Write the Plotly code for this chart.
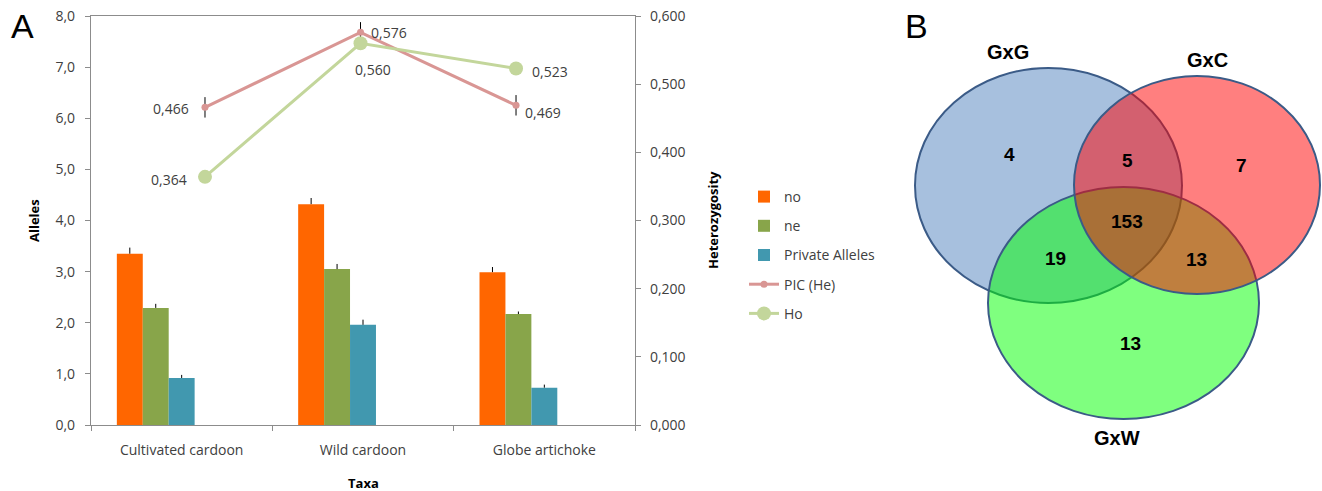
import plotly.graph_objects as go

# ---- data -------------------------------------------------------------
taxa = ["Cultivated cardoon", "Wild cardoon", "Globe artichoke"]
no_vals = [3.35, 4.32, 2.99]
ne_vals = [2.29, 3.05, 2.17]
private_vals = [0.92, 1.96, 0.73]
no_err = [0.12, 0.12, 0.10]
ne_err = [0.08, 0.10, 0.05]
private_err = [0.06, 0.10, 0.06]

pic_he = [0.466, 0.576, 0.469]
pic_err = [0.015, 0.015, 0.015]
ho = [0.364, 0.560, 0.523]

left_ticks = [0, 1, 2, 3, 4, 5, 6, 7, 8]
right_ticks = [0, 0.1, 0.2, 0.3, 0.4, 0.5, 0.6]

venn_sets = ["GxG", "GxC", "GxW"]
venn_counts = {"GxG": 4, "GxG&GxC": 5, "GxC": 7, "all": 153,
               "GxG&GxW": 19, "GxC&GxW": 13, "GxW": 13}

# ---- layout helpers ---------------------------------------------------
W, H = 1322, 491
FONT = "Open Sans"
GREY_TXT = "#404040"
AXIS = "#8c8c8c"


def px_x(p):
    return p / W


def px_y(p):
    return (H - p) / H


def comma(v, nd):
    return f"{v:.{nd}f}".replace(".", ",")


fig = go.Figure()

bar_w = 0.143
bar_specs = [
    ("no", no_vals, no_err, "#FF6600", -2.5 * bar_w),
    ("ne", ne_vals, ne_err, "#88A54A", -1.5 * bar_w),
    ("Private Alleles", private_vals, private_err, "#4198AF", -0.5 * bar_w),
]
for name, vals, err, col, off in bar_specs:
    fig.add_trace(go.Bar(
        x=taxa, y=vals, name=name, width=bar_w, offset=off,
        marker=dict(color=col, line=dict(width=0)),
        error_y=dict(type="data", array=err, arrayminus=[0] * len(err),
                     symmetric=False, color="black", thickness=1, width=0),
        xaxis="x", yaxis="y", legendgroup=name,
    ))

fig.add_trace(go.Scatter(
    x=taxa, y=pic_he, name="PIC (He)", mode="lines+markers",
    line=dict(color="#D99694", width=3),
    marker=dict(color="#D99694", size=7),
    error_y=dict(type="data", array=pic_err, color="black", thickness=1, width=0),
    xaxis="x2", yaxis="y2", legendgroup="pic",
))
fig.add_trace(go.Scatter(
    x=taxa, y=ho, name="Ho", mode="lines+markers",
    line=dict(color="#C3D69B", width=3),
    marker=dict(color="#C3D69B", size=14),
    xaxis="x2", yaxis="y2", legendgroup="ho",
))

# value labels on the heterozygosity lines
pic_pos = [("right", -14, -1), ("left", 8, 0), ("left", 7, -7)]
ho_pos = [("right", -16, -3), ("center", 12, -26), ("left", 14, -3)]
annotations = []
for vals, pos in ((pic_he, pic_pos), (ho, ho_pos)):
    for t, v, (anc, xs, ys) in zip(taxa, vals, pos):
        annotations.append(dict(
            x=t, y=v, xref="x2", yref="y2", text=comma(v, 3), showarrow=False,
            xanchor=anc, yanchor="middle", xshift=xs, yshift=ys,
            font=dict(family=FONT, size=14, color=GREY_TXT)))


def paper_text(x, y, text, size, family=FONT, angle=0):
    return dict(x=px_x(x), y=px_y(y), xref="paper", yref="paper", text=text,
                textangle=angle, showarrow=False, xanchor="center", yanchor="middle",
                font=dict(family=family, size=size, color="black"))


# axis titles and panel letters
annotations += [
    paper_text(34, 221, "<b>Alleles</b>", 13, angle=-90),
    paper_text(713, 220, "<b>Heterozygosity</b>", 13, angle=-90),
    paper_text(363, 483, "<b>Taxa</b>", 13),
    paper_text(22, 26, "A", 34, family="Liberation Sans"),
    paper_text(916, 26, "B", 34, family="Liberation Sans"),
]

# ---- Venn diagram -----------------------------------------------------
OUTLINE = "#3B5B87"
ellipses = [
    ("GxG", (915, 68, 1182, 303), "rgba(79,129,189,0.5)"),
    ("GxW", (988, 187, 1259, 419), "rgba(0,255,0,0.5)"),
    ("GxC", (1074, 76, 1320, 294), "rgba(255,0,0,0.5)"),
]
shapes = []
for _, (x0, y0, x1, y1), fill in ellipses:
    shapes.append(dict(type="circle", xref="x3", yref="y3", x0=x0, y0=y0, x1=x1, y1=y1,
                       fillcolor=fill, line=dict(color=OUTLINE, width=2), layer="above"))

venn_label_pos = {"GxG": (1008, 52), "GxC": (1207, 60), "GxW": (1117, 438)}
for s in venn_sets:
    x, y = venn_label_pos[s]
    annotations.append(dict(x=x, y=y, xref="x3", yref="y3", text=f"<b>{s}</b>",
                            showarrow=False, xanchor="center", yanchor="middle",
                            font=dict(family="Liberation Sans", size=20, color="black")))

count_pos = {"GxG": (1010, 154), "GxG&GxC": (1127, 160), "GxC": (1241, 165),
             "all": (1127, 221), "GxG&GxW": (1055, 258), "GxC&GxW": (1196, 259),
             "GxW": (1130, 343)}
for key, n in venn_counts.items():
    x, y = count_pos[key]
    annotations.append(dict(x=x, y=y, xref="x3", yref="y3", text=f"<b>{n}</b>",
                            showarrow=False, xanchor="center", yanchor="middle",
                            font=dict(family="Liberation Sans", size=19, color="black")))

tick_font = dict(family=FONT, size=14, color=GREY_TXT)

fig.update_layout(
    width=W, height=H, autosize=False,
    margin=dict(l=0, r=0, t=0, b=0, pad=0, autoexpand=False),
    paper_bgcolor="white", plot_bgcolor="white",
    separators=",.",
    barmode="overlay",
    showlegend=True,
    legend=dict(x=px_x(744), y=px_y(181), xanchor="left", yanchor="top",
                font=dict(family=FONT, size=14, color=GREY_TXT),
                tracegroupgap=8, traceorder="grouped", bgcolor="rgba(0,0,0,0)"),
    xaxis=dict(domain=[px_x(91), px_x(635)], type="category", range=[-0.5, 2.5],
               showline=True, linecolor=AXIS, linewidth=1.3, mirror=True,
               ticks="outside", tickson="boundaries", ticklen=5, tickcolor=AXIS,
               ticklabelstandoff=12,
               tickfont=tick_font, showgrid=False, zeroline=False, automargin=False),
    yaxis=dict(domain=[px_y(425), px_y(16)], range=[0, 8], tickvals=left_ticks,
               tickformat=".1f", showline=True, linecolor=AXIS, linewidth=1.3,
               ticks="outside", ticklen=5, tickcolor=AXIS, tickfont=tick_font,
               ticklabelstandoff=7,
               showgrid=False, zeroline=False, automargin=False),
    xaxis2=dict(overlaying="x", type="category", range=[-0.733, 2.765], visible=False,
                showgrid=False, automargin=False),
    yaxis2=dict(overlaying="y", side="right", anchor="x", range=[0, 0.6],
                tickvals=right_ticks, tickformat=".3f", showline=True, linecolor=AXIS,
                linewidth=1.3, ticks="outside", ticklen=5, tickcolor=AXIS,
                ticklabelstandoff=6,
                tickfont=tick_font, showgrid=False, zeroline=False, automargin=False),
    xaxis3=dict(domain=[px_x(880), 1], range=[880, 1322], visible=False, anchor="y3",
                automargin=False),
    yaxis3=dict(domain=[0, 1], range=[491, 0], visible=False, anchor="x3",
                automargin=False),
    shapes=shapes,
    annotations=annotations,
)

fig.write_html("out.html")
